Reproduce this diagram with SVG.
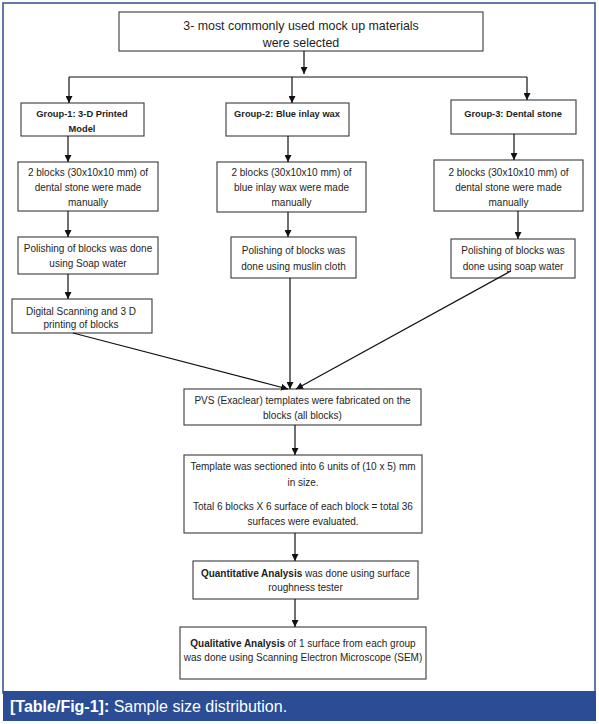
<svg xmlns="http://www.w3.org/2000/svg" width="599" height="724" viewBox="0 0 599 724">
<defs>
<style>
.frame{fill:#fff;stroke:#2d4e8c;stroke-width:1.5}
.box{fill:#fff;stroke:#3a3a3a;stroke-width:1.1}
.t{font-family:"Liberation Sans",Arial,sans-serif;font-size:10px;fill:#1e1e1e;text-anchor:middle}
.tb{font-weight:bold;font-size:9.3px}
.top{font-size:12.4px}
.c{fill:none;stroke:#111;stroke-width:1.2}
.cap{font-family:"Liberation Sans",Arial,sans-serif;font-size:16px;fill:#fff}
</style>
<marker id="ah" viewBox="0 0 10 10" refX="10" refY="5" markerWidth="7" markerHeight="7" orient="auto" markerUnits="userSpaceOnUse">
<path d="M0,0 L10,5 L0,10 z" fill="#111"/>
</marker>
</defs>
<rect x="0" y="0" width="599" height="724" fill="#fff"/>
<rect class="frame" x="3" y="3" width="592" height="690"/>
<rect x="3" y="691" width="593" height="30" fill="#2a4d96"/>
<text class="cap" x="10" y="712"><tspan font-weight="bold">[Table/Fig-1]:</tspan> Sample size distribution.</text>

<g id="n-top">
<rect class="box" x="119" y="12" width="364" height="39"/>
<text class="t top" x="301" y="29.5">3- most commonly used mock up materials</text>
<text class="t top" x="301" y="46.5">were selected</text>
</g>

<g id="n-g1">
<rect class="box" x="21" y="103" width="123" height="33"/>
<text class="t tb" x="82" y="116.5">Group-1: 3-D Printed</text>
<text class="t tb" x="82" y="131.5">Model</text>
</g>
<g id="n-g2">
<rect class="box" x="226" y="103" width="123" height="33"/>
<text class="t tb" x="287" y="116.5">Group-2: Blue inlay wax</text>
</g>
<g id="n-g3">
<rect class="box" x="451" y="100" width="125" height="34"/>
<text class="t tb" x="513" y="116.5">Group-3: Dental stone</text>
</g>

<g id="n-c1b">
<rect class="box" x="18" y="162" width="140" height="49"/>
<text class="t" x="88" y="175.5">2 blocks (30x10x10 mm) of</text>
<text class="t" x="88" y="190.5">dental stone were made</text>
<text class="t" x="88" y="205.5">manually</text>
</g>
<g id="n-c1p">
<rect class="box" x="18" y="237" width="140" height="37"/>
<text class="t" x="88" y="251.5">Polishing of blocks was done</text>
<text class="t" x="88" y="266.5">using Soap water</text>
</g>
<g id="n-c1d">
<rect class="box" x="12" y="299" width="140" height="34"/>
<text class="t" x="81" y="314.5">Digital Scanning and 3 D</text>
<text class="t" x="81" y="327.5">printing of blocks</text>
</g>

<g id="n-c2b">
<rect class="box" x="217" y="162" width="149" height="50"/>
<text class="t" x="291.5" y="175.5">2 blocks (30x10x10 mm) of</text>
<text class="t" x="291.5" y="190.5">blue inlay wax were made</text>
<text class="t" x="291.5" y="205.5">manually</text>
</g>
<g id="n-c2p">
<rect class="box" x="231" y="237" width="125" height="41"/>
<text class="t" x="293.5" y="253.5">Polishing of blocks was</text>
<text class="t" x="293.5" y="269.5">done using muslin cloth</text>
</g>

<g id="n-c3b">
<rect class="box" x="434" y="160" width="149" height="51"/>
<text class="t" x="508.5" y="175.5">2 blocks (30x10x10 mm) of</text>
<text class="t" x="508.5" y="190.5">dental stone were made</text>
<text class="t" x="508.5" y="205.5">manually</text>
</g>
<g id="n-c3p">
<rect class="box" x="451" y="239" width="124" height="39"/>
<text class="t" x="513" y="253.5">Polishing of blocks was</text>
<text class="t" x="513" y="269.5">done using soap water</text>
</g>

<g id="n-pvs">
<rect class="box" x="184" y="389" width="237" height="36"/>
<text class="t" x="302.5" y="403.5">PVS (Exaclear) templates were fabricated on the</text>
<text class="t" x="302.5" y="418.5">blocks (all blocks)</text>
</g>

<g id="n-tmpl">
<rect class="box" x="184" y="455" width="238" height="78"/>
<text class="t" x="303" y="469.5">Template was sectioned into 6 units of (10 x 5) mm</text>
<text class="t" x="303" y="485.5">in size.</text>
<text class="t" x="303" y="509.5">Total 6 blocks X 6 surface of each block = total 36</text>
<text class="t" x="303" y="524.5">surfaces were evaluated.</text>
</g>

<g id="n-quant">
<rect class="box" x="193" y="561" width="225" height="38"/>
<text class="t" x="305.5" y="576.5"><tspan font-weight="bold">Quantitative Analysis</tspan> was done using surface</text>
<text class="t" x="305.5" y="590.5">roughness tester</text>
</g>

<g id="n-qual">
<rect class="box" x="180" y="627" width="246" height="52"/>
<text class="t" x="303" y="646.5"><tspan font-weight="bold">Qualitative Analysis</tspan> of 1 surface from each group</text>
<text class="t" x="303" y="660.5">was done using Scanning Electron Microscope (SEM)</text>
</g>

<g id="connectors">
<path class="c" d="M304,51 V74" marker-end="url(#ah)"/>
<path class="c" d="M69,77 H527"/>
<path class="c" d="M69,77 V103" marker-end="url(#ah)"/>
<path class="c" d="M292,77 V103" marker-end="url(#ah)"/>
<path class="c" d="M527,77 V100" marker-end="url(#ah)"/>
<path class="c" d="M68,136 V162" marker-end="url(#ah)"/>
<path class="c" d="M68,211 V237" marker-end="url(#ah)"/>
<path class="c" d="M68,274 V299" marker-end="url(#ah)"/>
<path class="c" d="M73,333 L288,389" marker-end="url(#ah)"/>
<path class="c" d="M288,136 V162" marker-end="url(#ah)"/>
<path class="c" d="M288,212 V237" marker-end="url(#ah)"/>
<path class="c" d="M290,278 V389" marker-end="url(#ah)"/>
<path class="c" d="M514,134 V160" marker-end="url(#ah)"/>
<path class="c" d="M518,211 V239" marker-end="url(#ah)"/>
<path class="c" d="M511,271 L296,389" marker-end="url(#ah)"/>
<path class="c" d="M295,425 V455" marker-end="url(#ah)"/>
<path class="c" d="M295,533 V561" marker-end="url(#ah)"/>
<path class="c" d="M295,599 V627" marker-end="url(#ah)"/>
</g>
</svg>
